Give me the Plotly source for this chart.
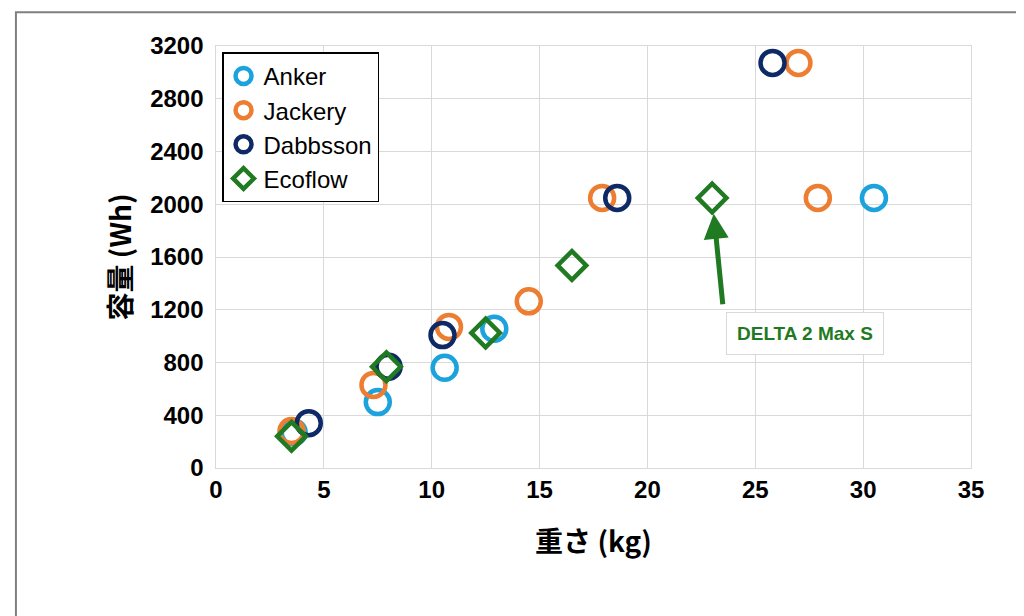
import plotly.graph_objects as go

anker_x = [3.6, 7.5, 10.6, 12.9, 30.5]
anker_y = [270, 500, 760, 1056, 2048]
jackery_x = [3.5, 7.3, 10.8, 14.5, 17.9, 27.9, 27.0]
jackery_y = [280, 630, 1070, 1264, 2048, 2048, 3072]
dabbsson_x = [4.3, 8.0, 10.5, 18.6, 25.8]
dabbsson_y = [340, 768, 1008, 2048, 3072]
ecoflow_x = [3.5, 7.9, 12.5, 16.5, 23.0]
ecoflow_y = [240, 768, 1024, 1536, 2048]

fig = go.Figure()
def add(name, xs, ys, color, symbol, size=24):
    fig.add_trace(go.Scatter(x=xs, y=ys, mode="markers", name=name,
        marker=dict(symbol=symbol, size=size, color="rgba(255,255,255,0)",
                    line=dict(color=color, width=4.5))))
add("Anker", anker_x, anker_y, "#1CA3DE", "circle")
add("Jackery", jackery_x, jackery_y, "#ED7D31", "circle")
add("Dabbsson", dabbsson_x, dabbsson_y, "#0E2A66", "circle")
add("Ecoflow", ecoflow_x, ecoflow_y, "#1F7A22", "diamond", 22)

fig.add_annotation(x=23.0, y=2048, ax=23.5, ay=1230, xref="x", yref="y", axref="x", ayref="y",
    text="", showarrow=True, arrowhead=2, arrowsize=1, arrowwidth=5, arrowcolor="#1F7A22",
    standoff=16)
fig.add_annotation(x=27.3, y=1020, xref="x", yref="y", text="<b>DELTA 2 Max S</b>",
    showarrow=False, font=dict(size=19, color="#1F7A22", family="Liberation Sans"),
    bgcolor="white", bordercolor="#D9D9D9", borderwidth=1, borderpad=10)

axis_font = dict(size=24, color="black", family="Liberation Sans", weight="bold")
fig.update_layout(
    width=1024, height=616, plot_bgcolor="white", paper_bgcolor="white",
    margin=dict(l=208, r=61, t=38, b=156),
    font=dict(family="Liberation Sans", color="black"),
    xaxis=dict(range=[0, 35], dtick=5, showgrid=True, gridcolor="#D9D9D9", gridwidth=1,
               zeroline=False, showline=True, linecolor="#D9D9D9", mirror=True,
               tickfont=axis_font, ticks="",
               title=dict(text="<b>重さ (kg)</b>", font=dict(size=28, family="Noto Sans CJK JP"), standoff=30)),
    yaxis=dict(range=[0, 3200], dtick=400, showgrid=True, gridcolor="#D9D9D9", gridwidth=1,
               zeroline=False, showline=True, linecolor="#D9D9D9", mirror=True,
               tickfont=axis_font, ticks="", ticksuffix=" ",
               title=dict(text="<b>容量 (Wh)</b>", font=dict(size=28, family="Noto Sans CJK JP"), standoff=10)),
    legend=dict(x=0.008, y=0.985, xanchor="left", yanchor="top", bgcolor="white",
                bordercolor="black", borderwidth=1.5, font=dict(size=24, family="Liberation Sans"),
                itemsizing="trace"),
    shapes=[dict(type="rect", xref="paper", yref="paper", x0=-0.265, x1=1.07, y0=-0.355, y1=1.08,
                 line=dict(color="#7F7F7F", width=2))],
)
fig.write_html("out.html")
